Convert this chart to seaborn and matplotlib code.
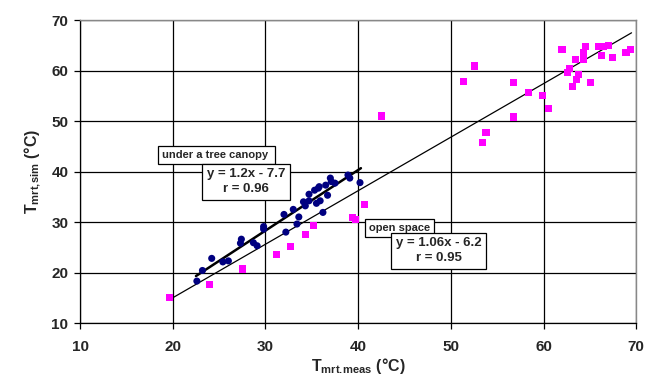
import numpy as np
import pandas as pd
import matplotlib
matplotlib.use("Agg")
import matplotlib.pyplot as plt
import seaborn as sns

# ---- data ----
tree_x = [22.6, 23.2, 24.2, 25.4, 26.0, 27.3, 27.4, 28.7, 29.1, 29.8, 29.8, 32.2,
          32.0, 33.0, 33.4, 33.6, 34.1, 34.3, 34.7, 34.7, 35.3, 35.5, 35.7, 35.8,
          35.9, 36.2, 36.5, 37.0, 37.1, 37.5, 36.7, 38.9, 39.1, 40.2]
tree_y = [18.3, 20.4, 22.8, 22.1, 22.3, 25.8, 26.6, 25.9, 25.3, 29.1, 28.6, 28.0,
          31.5, 32.5, 29.6, 31.0, 34.0, 33.2, 35.5, 34.2, 36.3, 33.7, 36.7, 37.0,
          34.2, 31.9, 37.3, 38.7, 38.0, 37.7, 35.3, 39.3, 38.7, 37.8]

open_x = [19.6, 24.0, 27.5, 31.2, 32.7, 34.3, 35.2, 39.4, 39.7, 40.7, 42.5,
          52.6, 51.4, 56.8, 58.4, 59.9, 60.5, 56.8, 53.8, 53.4, 62.0, 64.5, 64.3,
          63.5, 64.3, 65.9, 66.5, 67.0, 66.3, 67.4, 68.9, 69.4, 62.8, 62.6, 63.8,
          63.6, 63.1, 65.1]
open_y = [15.1, 17.6, 20.7, 23.5, 25.1, 27.5, 29.3, 30.9, 30.5, 33.4, 51.0,
          60.9, 57.8, 57.6, 55.6, 55.0, 52.5, 50.8, 47.8, 45.7, 64.1, 64.7, 63.5,
          62.2, 62.1, 64.7, 64.8, 64.9, 62.9, 62.5, 63.6, 64.1, 60.4, 59.6, 59.2,
          58.3, 56.9, 57.7]

tree_fit = (1.2, -7.7)      # slope, intercept
tree_r = 0.96
tree_range = [22.5, 40.3]
open_fit = (1.06, -6.2)
open_r = 0.95
open_range = [19.5, 69.5]

ticks = [10, 20, 30, 40, 50, 60, 70]

# ---- style ----
sns.set_theme(style="white")
plt.rcParams['font.family'] = ['Liberation Sans', 'DejaVu Sans']
plt.rcParams['font.weight'] = 'bold'
plt.rcParams['mathtext.fontset'] = 'custom'
plt.rcParams['mathtext.rm'] = 'Liberation Sans:bold'
plt.rcParams['mathtext.it'] = 'Liberation Sans:bold'
plt.rcParams['mathtext.bf'] = 'Liberation Sans:bold'
plt.rcParams['mathtext.default'] = 'rm'

fig = plt.figure(figsize=(6.62, 3.78), dpi=100)
ax = fig.add_axes([0.121, 0.1455, 0.840, 0.8015])

df_tree = pd.DataFrame({"meas": tree_x, "sim": tree_y})
df_open = pd.DataFrame({"meas": open_x, "sim": open_y})

# fitted lines
lx = np.array(open_range)
sns.lineplot(x=lx, y=open_fit[0] * lx + open_fit[1], ax=ax, color="black",
             linewidth=0.9, zorder=2)
tx = np.array(tree_range)
sns.lineplot(x=tx, y=tree_fit[0] * tx + tree_fit[1], ax=ax, color="black",
             linewidth=1.8, zorder=2)

sns.scatterplot(data=df_open, x="meas", y="sim", ax=ax, marker="s", s=26,
                color="#FF00FF", edgecolor="none", zorder=3)
sns.scatterplot(data=df_tree, x="meas", y="sim", ax=ax, marker="o", s=26,
                color="#000080", edgecolor="none", zorder=4)

ax.set_xlim(10, 70)
ax.set_ylim(10, 70)
ax.set_xticks(ticks)
ax.set_yticks(ticks)
ax.set_xticklabels([str(t) for t in ticks], fontsize=11, fontweight='bold')
ax.set_yticklabels([str(t) for t in ticks], fontsize=11, fontweight='bold')
ax.grid(True, color="black", linewidth=0.9)
ax.set_axisbelow(True)
ax.tick_params(axis='both', direction='out', length=4, width=0.9, color='black',
               bottom=True, left=True)
ax.tick_params(axis='x', pad=8)
ax.tick_params(axis='y', pad=4.5)
for side in ['left', 'bottom']:
    ax.spines[side].set_color('black')
    ax.spines[side].set_linewidth(0.9)
for side in ['top', 'right']:
    ax.spines[side].set_color('#888888')
    ax.spines[side].set_linewidth(1.0)

ax.set_xlabel(r"$T_{\mathrm{mrt.\!meas}}$ (°C)", fontsize=11.5, fontweight='bold',
              labelpad=1.5)
ax.set_ylabel(r"$T_{\mathrm{mrt,\!sim}}$ (°C)", fontsize=11.5, fontweight='bold',
              labelpad=6)

box = dict(boxstyle="square,pad=0.35", facecolor="white", edgecolor="black",
           linewidth=0.9)
eqbox = dict(boxstyle="square,pad=0.35", facecolor="white", edgecolor="black",
             linewidth=0.9)
ax.text(18.8, 43.2, "under a tree canopy ", fontsize=8, fontweight='bold',
        ha='left', va='center', bbox=box, zorder=5)
ax.text(27.9, 38.0,
        f"y = {tree_fit[0]}x - {abs(tree_fit[1])}\nr = {tree_r}",
        fontsize=9.5, fontweight='bold', ha='center', va='center',
        linespacing=1.3, bbox=eqbox, zorder=5)
ax.text(41.2, 28.8, "open space", fontsize=8, fontweight='bold',
        ha='left', va='center', bbox=box, zorder=5)
ax.text(48.7, 24.3,
        f"y = {open_fit[0]}x - {abs(open_fit[1])}\nr = {open_r}",
        fontsize=9.5, fontweight='bold', ha='center', va='center',
        linespacing=1.3, bbox=eqbox, zorder=5)

fig.savefig("out.png", dpi=100)
